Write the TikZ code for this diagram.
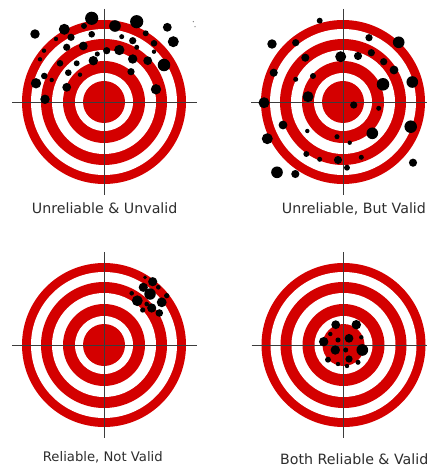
\documentclass[tikz,border=0pt]{standalone}
\usepackage{fontspec}
\setmainfont{DejaVu Sans}
\definecolor{tred}{RGB}{212,0,0}
\definecolor{crossc}{RGB}{60,60,60}
\definecolor{lbl}{RGB}{45,45,45}
\newcommand\drawtarget[2]{%
  \foreach \rr/\cc in {82/tred,73/white,63/tred,52/white,41/tred,29/white,21/tred}
    \fill[\cc] (#1,#2) circle[radius=\rr];
  \draw[crossline] ({#1-92},#2) -- ({#1+93},#2);
  \draw[crossline] (#1,{#2-93}) -- (#1,{#2+93});
}
\begin{document}
\begin{tikzpicture}[x=1bp,y=-1bp,
  crossline/.style={draw=crossc,line width=0.9bp},
  shot/.style={fill=black},
  lab/.style={text=lbl,inner sep=0pt,anchor=base west,font=\fontsize{14.2bp}{16bp}\selectfont}]
\useasboundingbox[fill=white] (0,0) rectangle (426,468);

% target 1: unreliable & unvalid
\drawtarget{104}{102}
\foreach \x/\y/\r in {91.7/18.3/6, 136.7/21.7/6, 115/26/5.3, 64.3/29.3/5, 35/34/4.3,
  167.3/27.3/4, 173.3/41.7/5, 84/26/2.7, 91.7/34.3/3, 71/37.3/3.3, 56/39/2,
  145.7/33.3/2.7, 121.7/36.7/2.3, 132.7/40.7/3.3, 154/43.3/3, 83.3/46/4,
  66.7/47.3/3.3, 44/50.7/2, 106.7/50.7/3.3, 119.3/50/4.7, 136.7/47.3/2.3,
  154/51.7/2, 97.3/54/2.3, 40/59.3/2, 60/63.3/3, 76.7/63.3/2.7, 93.3/60.7/4.3,
  132.7/59/4.3, 147.7/60.7/4, 164/65/5.7, 68.3/72.7/3, 80/74.7/2, 44.3/76/3,
  51.7/80/2, 131/71.7/3.3, 36/83.3/4.7, 66.7/87.3/4, 156/89.3/4.7, 45/99.3/4.3}
  \fill[shot] (\x,\y) circle[radius=1.1*\r];
\fill[gray] (193.3,21.7) circle[radius=0.7] (195,26.7) circle[radius=0.7];

% target 2: unreliable, but valid
\drawtarget{343}{102}
\foreach \x/\y/\r in {319.7/20.7/2.7, 272/44/4.3, 295.7/42.7/3.3, 369/37.7/3.3,
  398.7/42.3/5.3, 340.7/56.7/5, 358/56/3.7, 371.3/52.7/3.3, 305.3/57.7/3.7,
  383.7/61.7/3.3, 394/70/4, 273.7/72.7/3.7, 313/76/2.7, 295.7/79.3/2.3,
  383/84.3/5.7, 412.3/82/5.3, 308/96.7/5, 264/102.7/5, 353.7/105/3.3,
  378.7/108.3/2.3, 283/125/4, 410.7/126.7/5.7, 307.3/131/2, 372.3/133.3/5.3,
  267.3/138.7/5, 337/136.7/2.3, 349.7/142.7/2, 306.3/154/2.7, 319.7/159.3/2.3,
  338/160/3.7, 361.3/157.3/2.3, 347/167.7/2.7, 413/162.7/3.7, 277/172.3/5.3,
  295.3/174/3.7}
  \fill[shot] (\x,\y) circle[radius=1.1*\r];

% target 3: reliable, not valid
\drawtarget{104}{345}
\foreach \x/\y/\r in {152.7/281.7/4, 143.3/287.3/4, 158.3/287.3/2, 145/277.3/1.7,
  150/294/5, 137.3/300.7/4.7, 161.7/302.3/4.3, 151.7/308/4, 159.3/313/3.3,
  142.7/310/2.3, 131.7/293.3/2, 166.7/295.7/2.3, 146.7/304/2}
  \fill[shot] (\x,\y) circle[radius=1.15*\r];

% target 4: both reliable & valid
\drawtarget{343.5}{345}
\foreach \x/\y/\r in {335.7/324.7/4, 356.3/324.7/4.3, 323.7/341.7/4.3, 349/338.3/4,
  338/340/2.3, 330.3/334/2, 361.3/337.3/2, 362.3/350/5.3, 335.3/350/4.3,
  345.7/350/2.3, 349/359/3.3, 328/359.7/2.7, 338/364/2, 347/366/2, 358/362.3/2.3}
  \fill[shot] (\x,\y) circle[radius=1.1*\r];

% labels
\node[lab] (l1) at (31.7,213.7) {Unreliable \& Unvalid};
\node[lab] (l2) at (281.7,213.7) {Unreliable, But Valid};
\node[lab,font=\fontsize{13.2bp}{15bp}\selectfont] (l3) at (42.7,461.5) {Reliable, Not Valid};
\node[lab] (l4) at (280,464) {Both Reliable \& Valid};
\end{tikzpicture}
\end{document}
